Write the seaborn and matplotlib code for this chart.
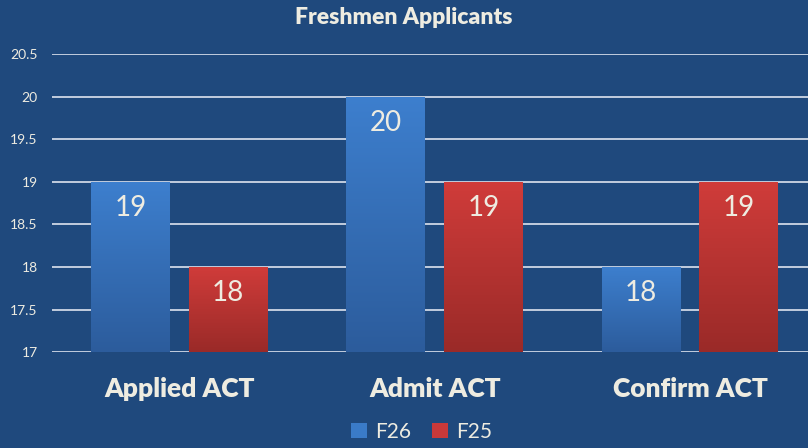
import numpy as np
import pandas as pd
import matplotlib
matplotlib.use("Agg")
import matplotlib.pyplot as plt
import seaborn as sns
from matplotlib.colors import LinearSegmentedColormap
from matplotlib.patches import Rectangle

categories = ["Applied ACT", "Admit ACT", "Confirm ACT"]
f26 = [19, 20, 18]
f25 = [18, 19, 19]
series = ["F26", "F25"]
yticks = [17, 17.5, 18, 18.5, 19, 19.5, 20, 20.5]

BG = "#1F497D"
TXT = "#EEECE1"
colors = {"F26": "#3A7BC8", "F25": "#C9393A"}
grad = {"F26": ("#3D7FCE", "#2C5C9C"), "F25": ("#D03C3A", "#9A2A28")}

df = pd.DataFrame({
    "category": categories * 2,
    "value": f26 + f25,
    "series": ["F26"] * 3 + ["F25"] * 3,
})

sns.set_theme(style="dark")
plt.rcParams["font.family"] = ["Lato", "DejaVu Sans"]

fig = plt.figure(figsize=(8.08, 4.48), dpi=100)
fig.patch.set_facecolor(BG)
ax = fig.add_axes([0.064, 0.214, 0.948, 0.665])
ax.set_facecolor(BG)

sns.barplot(data=df, x="category", y="value", hue="series", order=categories,
            hue_order=series, palette=colors, width=0.766, gap=0.193,
            ax=ax, legend=False, zorder=3, linewidth=0)

ax.set_ylim(17, 20.5)
ax.set_yticks(yticks)
ax.set_yticklabels([f"{t:g}" for t in yticks], color=TXT, fontsize=10)
ax.tick_params(axis="y", length=0, pad=10)
ax.tick_params(axis="x", length=0, pad=18)
for lab in ax.get_xticklabels():
    lab.set_color(TXT)
    lab.set_fontsize(19)
    lab.set_fontweight("heavy")
ax.set_xlabel("")
ax.set_ylabel("")
ax.grid(axis="y", color="#DDE3EE", linewidth=1.2, zorder=1)
ax.grid(axis="x", visible=False)
for s in ax.spines.values():
    s.set_visible(False)

# gradient fill and labels
for container, name in zip(ax.containers, series):
    c1, c2 = grad[name]
    cmap = LinearSegmentedColormap.from_list(name, [c2, c1])
    for bar in container.patches:
        x0, w = bar.get_x(), bar.get_width()
        h = bar.get_height()
        y0 = bar.get_y()
        bar.set_facecolor("none")
        g = np.linspace(0, 1, 256).reshape(-1, 1)
        im = ax.imshow(g, cmap=cmap, origin="lower", aspect="auto",
                       extent=[x0, x0 + w, 17, y0 + h], zorder=3)
        im.set_clip_path(bar)
        ax.text(x0 + w / 2, y0 + h - 0.31, f"{h:g}", ha="center", va="center",
                color=TXT, fontsize=20, zorder=5)
ax.set_xlim(-0.5, 2.5)
ax.set_ylim(17, 20.5)

fig.text(0.5, 0.962, "Freshmen Applicants", ha="center", va="center",
         color=TXT, fontsize=16.5, fontweight="heavy")

handles = [Rectangle((0, 0), 1, 1, facecolor=colors[s], edgecolor="none") for s in series]
fig.legend(handles, series, loc="center", bbox_to_anchor=(0.522, 0.036), ncol=2,
           frameon=False, fontsize=15, labelcolor=TXT, handlelength=0.75,
           handleheight=0.75, handletextpad=0.4, columnspacing=1.0)

fig.savefig("out.png", dpi=100, facecolor=BG)
